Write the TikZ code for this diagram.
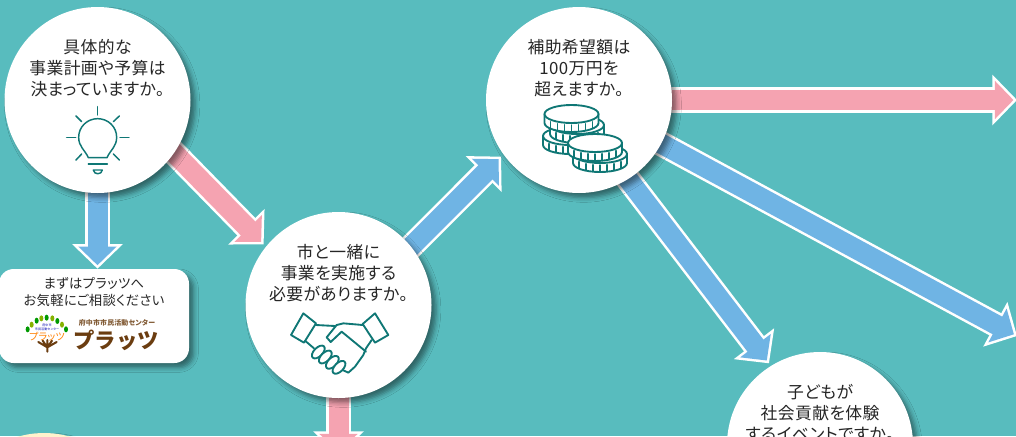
\documentclass[tikz,border=0pt]{standalone}
\usepackage{fontspec}
\setmainfont[RawFeature={+palt}, LetterSpace=2.5]{Noto Sans CJK JP}
\newfontfamily\plainjp{Noto Sans CJK JP}
\usetikzlibrary{arrows.meta, backgrounds, shadows.blur}
\definecolor{teal}{HTML}{58BCBE}
\definecolor{cream}{HTML}{FFF2CC}
\definecolor{rose}{HTML}{F5A3B1}
\definecolor{sky}{HTML}{6FB4E4}
\definecolor{icon}{HTML}{0F7775}
\definecolor{logobrown}{HTML}{6B3D10}
\tikzstyle{question} = [circle, fill=white, minimum size=139.5pt, inner sep=0pt, outer sep=2.5pt, blur shadow={shadow xshift=3.5pt, shadow yshift=-3.5pt, shadow blur radius=3.5pt, shadow opacity=45}]
\tikzstyle{qtext} = [align=center, font=\fontsize{12.6}{15.75}\selectfont, text=black!85, inner sep=0pt]
\tikzstyle{consult} = [rectangle, rounded corners=11pt, fill=white, minimum width=142.5pt, minimum height=70.5pt, blur shadow={shadow xshift=3.5pt, shadow yshift=-3.5pt, shadow blur radius=3.5pt, shadow opacity=45}]
\tikzstyle{consulttext} = [align=center, font=\fontsize{10}{12.75}\selectfont, text=black!85, inner sep=0pt]
\tikzstyle{arrowrose} = [draw=white, line width=18.8pt, shorten <=-8pt, -{Triangle[length=18.5pt, width=37pt]}, postaction={draw=rose, line width=15pt, shorten >=2.65pt, -{Triangle[length=14pt, width=28pt]}}]
\tikzstyle{arrowsky} = [draw=white, line width=18.8pt, shorten <=-8pt, -{Triangle[length=18.5pt, width=37pt]}, postaction={draw=sky, line width=15pt, shorten >=2.65pt, -{Triangle[length=14pt, width=28pt]}}]
\tikzstyle{iconline} = [draw=icon, line width=1.1pt, line cap=round, line join=round]
\tikzstyle{iconbold} = [draw=icon, line width=1.4pt, line cap=round, line join=round]
\newcommand{\coin}[2]{%
  \filldraw[iconbold, fill=white] (#1-27,#2) -- (#1-27,#2+9) arc[start angle=180, end angle=0, x radius=27, y radius=9] -- (#1+27,#2) -- cycle;
  \foreach \a in {-21,-14,-7,0,7,14,21} {
    \pgfmathsetmacro{\b}{9*sqrt(1-(\a/27)^2)}
    \draw[iconline] (#1+\a,#2+\b+2) -- (#1+\a,#2+\b+8);
  }
  \filldraw[iconbold, fill=white] (#1,#2) ellipse (27 and 9);
}

\begin{document}
\begin{tikzpicture}[x=.75pt, y=-.75pt, node distance=24pt]
\useasboundingbox (0,0) rectangle (1016,436);

\node (plan) [question] at (97.5,100) {};
\node (partner) [question] at (338.5,305) {};
\node (budget) [question] at (579,100) {};
\node (children) [question] at (820,445) {};
\node (next) [question, fill=cream] at (44,526) {};
\node (prattsu) [consult] at (94,316) {};
\coordinate (outA) at (1017,100);
\coordinate (outB) at (1017,336);
\coordinate (outC) at (338.5,456);

\begin{pgfonlayer}{background}
\fill [teal] (0,0) rectangle (1016,436);
\draw [arrowsky] (plan.south) -- (plan.south |- prattsu.north);
\draw [arrowrose] (plan.-35) -- (partner.141);
\draw [arrowsky] (partner.39) -- (budget.216);
\draw [arrowrose] (partner.south) -- (outC);
\draw [arrowrose] (budget.east) -- (outA);
\draw [arrowsky] (budget.-58) -- (children.122);
\draw [arrowsky] (budget.-28) -- (outB);
\end{pgfonlayer}

\node (plantext) [qtext, above of=plan] {具体的な\\事業計画や予算は\\決まっていますか。};
\node (partnertext) [qtext, above of=partner] {市と一緒に\\事業を実施する\\必要がありますか。};
\node (budgettext) [qtext, above of=budget] {補助希望額は\\100万円を\\超えますか。};
\node (childrentext) [qtext, above of=children] {子どもが\\社会貢献を体験\\するイベントですか。};
\node (prattsutext) [consulttext] at (94,292.5) {まずはプラッツへ\\お気軽にご相談ください};

% light bulb
\begin{scope}[x=.25pt, y=-.25pt]
\draw [iconline] (265,473) .. controls (255,450) and (236,440) .. (236,412) .. controls (236,380) and (262,356) .. (293,356) .. controls (324,356) and (350,380) .. (350,412) .. controls (350,440) and (331,450) .. (321,473) -- cycle;
\draw [iconline] (293,320) -- (293,345);
\draw [iconline] (200,412) -- (227,412);
\draw [iconline] (360,412) -- (387,412);
\draw [iconline] (228,348) -- (245,365);
\draw [iconline] (358,348) -- (340,365);
\draw [iconline] (228,480) -- (245,462);
\draw [iconline] (358,480) -- (340,462);
\draw [iconline] (265,492) -- (322,492);
\draw [iconline] (280,510) -- (307,510) .. controls (305,525) and (282,525) .. (280,510);
\end{scope}

% handshake
\begin{scope}[shift={(240,220)}, x=.25pt, y=-.25pt]
\draw [iconbold] (228,315) -- (285,318);
\draw [iconbold] (368,315) -- (310,310) -- (290,315) -- (260,352) -- (272,366) -- (305,335) -- (378,395);
\draw [iconbold] (395,360) -- (378,385) -- (370,405) -- (345,440) -- (325,458) -- (308,450);
\draw [iconbold] (195,362) -- (222,385);
\foreach \fx/\fy in {235/396, 256/411, 277/427, 297/442}
  \filldraw [iconbold, fill=white, rotate around={45:(\fx,\fy)}] (\fx,\fy) ellipse (24 and 13);
\draw [iconbold] (190,280) -- (228,310) -- (192,368) -- (153,345) -- cycle;
\draw [iconbold] (405,280) -- (368,312) -- (405,368) -- (445,345) -- cycle;
\end{scope}

% coins
\coin{570}{136}
\coin{577}{125}
\coin{571.5}{114}
\coin{600}{154}
\coin{595}{143}

% logo
\begin{scope}[shift={(0,250)}, x=.25pt, y=-.25pt]
\foreach \lx/\ly/\lc in {83/238/green!60!black, 95/224/lime!70!black, 110/212/green!60!black, 124/205/lime!70!black, 140/203/green!60!black, 157/205/lime!70!black, 172/213/green!60!black, 186/224/lime!70!black, 198/238/green!60!black}
  \fill [\lc] (\lx,\ly) ellipse (6 and 9);
\draw [logobrown, line width=1.5pt, line cap=round] (142,305) -- (142,285) (142,292) -- (115,276) (142,292) -- (128,272) (142,288) -- (142,270) (142,292) -- (156,272) (142,292) -- (170,276);
\end{scope}
\node (logotiny) [align=center, inner sep=0pt, text=blue!70!black, font=\fontsize{2.3}{3}\selectfont] at (47,327.5) {府中市\\市民活動センター};
\node (logokana) [inner sep=0pt, text=orange, font=\fontsize{7.5}{8}\selectfont] at (47,337) {プラッツ};
\node (logosub) [inner sep=0pt, text=logobrown!85, font=\fontsize{5.2}{6}\bfseries\selectfont] at (117,322.5) {府中市市民活動センター};
\node (logoname) [inner sep=0pt, text=logobrown, font=\fontsize{16}{16}\plainjp\bfseries\selectfont] at (116,340) {プラッツ};
\end{tikzpicture}
\end{document}
